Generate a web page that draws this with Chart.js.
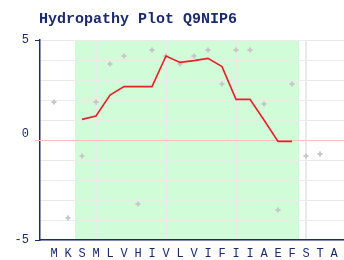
<!DOCTYPE html>
<html>
<head>
<meta charset="utf-8">
<script src="https://cdn.jsdelivr.net/npm/chart.js@4.4.1/dist/chart.umd.min.js"></script>
<style>
  html, body { margin: 0; padding: 0; background: #fff; }
  #wrap { width: 344px; height: 260px; }
</style>
</head>
<body>
<div id="wrap"><canvas id="grafico"></canvas></div>
<script>
const residues = ['M', 'K', 'S', 'M', 'L', 'V', 'H', 'I', 'V', 'L', 'V', 'I', 'F', 'I', 'I', 'A', 'E', 'F', 'S', 'T', 'A'];
const hydropathy = [1.9, -3.9, -0.8, 1.9, 3.8, 4.2, -3.2, 4.5, 4.2, 3.8, 4.2, 4.5, 2.8, 4.5, 4.5, 1.8, -3.5, 2.8, -0.8, -0.7, null];
const windowAvg = [null, null, 1.03, 1.2, 2.25, 2.67, 2.67, 2.67, 4.2, 3.88, 3.97, 4.08, 3.67, 2.03, 2.03, 1.0, -0.07, -0.07, null, null, null];
const yTickLabels = [-5, 0, 5];
const gridResidues = [3, 8, 13, 18];
const windowRange = [1.5, 17.5];

const navy = '#1c2b6e';
const fontMono = 'Liberation Mono';
const xMin = -1;
const xMax = -1 + 304 / 14;

const rawPoints = hydropathy.map((v, i) => ({ x: i, y: v }));
const avgPoints = windowAvg.map((v, i) => ({ x: i, y: v }));

// green window band + pink zero line + title
const decor = {
    id: 'decor',
    beforeDraw(chart) {
        const ctx = chart.ctx;
        const xs = chart.scales.x;
        const a = chart.chartArea;
        ctx.save();
        ctx.fillStyle = 'rgb(208,252,216)';
        const x0 = xs.getPixelForValue(windowRange[0]);
        const x1 = xs.getPixelForValue(windowRange[1]);
        ctx.fillRect(x0, a.top, x1 - x0, a.bottom - a.top);
        ctx.fillStyle = navy;
        ctx.font = 'bold 15px "' + fontMono + '"';
        ctx.textBaseline = 'alphabetic';
        ctx.fillText('Hydropathy Plot Q9NIP6', 39, 23);
        ctx.restore();
    },
    beforeDatasetsDraw(chart) {
        const ctx = chart.ctx;
        const ys = chart.scales.y;
        const y = Math.round(ys.getPixelForValue(0)) + 0.5;
        ctx.save();
        ctx.strokeStyle = 'rgb(255,190,190)';
        ctx.lineWidth = 1;
        ctx.beginPath();
        ctx.moveTo(35, y);
        ctx.lineTo(chart.width, y);
        ctx.stroke();
        ctx.restore();
    }
};

new Chart(document.getElementById('grafico').getContext('2d'), {
    type: 'scatter',
    data: {
        datasets: [{
            label: 'window',
            data: avgPoints,
            showLine: true,
            borderColor: 'rgb(232,32,40)',
            borderWidth: 1.6,
            pointRadius: 0,
            tension: 0,
            order: 1
        },
        {
            label: 'raw',
            data: rawPoints,
            pointStyle: 'cross',
            pointRadius: 2.5,
            borderWidth: 2,
            borderColor: 'rgb(200,200,200)',
            backgroundColor: 'rgb(200,200,200)',
            order: 2
        }]
    },
    options: {
        responsive: true,
        maintainAspectRatio: false,
        animation: false,
        layout: {
            autoPadding: false,
            padding: { top: 40, right: 0, left: 0, bottom: 0 }
        },
        scales: {
            x: {
                type: 'linear',
                min: xMin,
                max: xMax,
                afterBuildTicks: function (axis) {
                    // empty end ticks so no extra side padding is reserved
                    const t = [{ value: xMin }];
                    residues.forEach((r, i) => t.push({ value: i }));
                    t.push({ value: xMax });
                    axis.ticks = t;
                },
                afterFit: function (axis) {
                    axis.height = 20;
                },
                ticks: {
                    autoSkip: false,
                    maxRotation: 0,
                    padding: 0,
                    color: navy,
                    font: { family: fontMono, size: 12 },
                    callback: function (value) {
                        return Number.isInteger(value) && value >= 0 ? (residues[value] || '') : '';
                    }
                },
                grid: {
                    drawTicks: true,
                    tickLength: 7,
                    tickColor: 'rgba(0,0,0,0)',
                    lineWidth: 2,
                    color: function (c) {
                        return gridResidues.includes(c.tick && c.tick.value) ? 'rgb(234,234,234)' : 'rgba(0,0,0,0)';
                    }
                },
                border: { color: navy, width: 1.5 }
            },
            y: {
                min: -5,
                max: 5,
                afterBuildTicks: function (axis) {
                    const t = [];
                    for (let v = -5; v <= 5; v++) t.push({ value: v });
                    axis.ticks = t;
                },
                afterFit: function (axis) {
                    axis.width = 40;
                },
                ticks: {
                    autoSkip: false,
                    padding: 6,
                    color: navy,
                    font: { family: fontMono, size: 12, lineHeight: 1.1 },
                    callback: function (value) {
                        if (!yTickLabels.includes(value)) return '';
                        // the zero label sits a little above its line in the original
                        return value === 0 ? ['0', ''] : String(value);
                    }
                },
                grid: {
                    tickLength: 5,
                    lineWidth: 1,
                    color: function (c) {
                        return c.tick && c.tick.value === 0 ? 'rgba(0,0,0,0)' : 'rgb(234,234,234)';
                    },
                    tickColor: function (c) {
                        const v = c.tick && c.tick.value;
                        return (v === 5 || v === -5) ? navy : 'rgba(0,0,0,0)';
                    }
                },
                border: { color: navy, width: 1.5 }
            }
        },
        plugins: {
            legend: { display: false },
            title: { display: false },
            tooltip: { enabled: false }
        }
    },
    plugins: [decor]
});
</script>
</body>
</html>
